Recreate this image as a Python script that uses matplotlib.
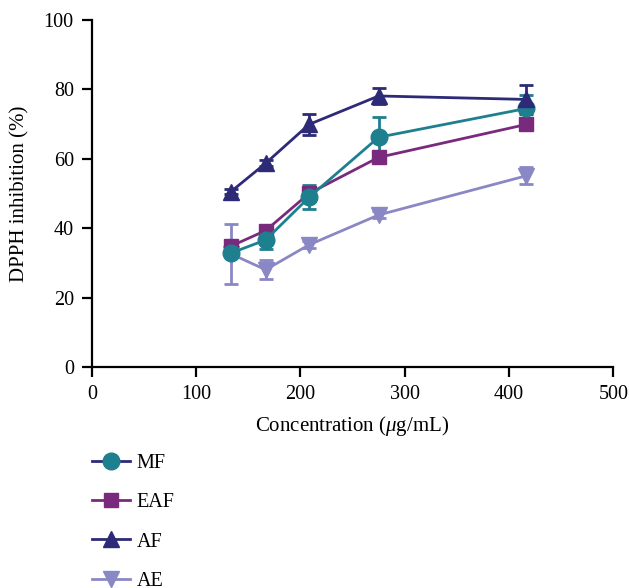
import matplotlib
matplotlib.use("Agg")
import matplotlib.pyplot as plt
from matplotlib.lines import Line2D

plt.rcParams['font.family'] = ['Liberation Serif', 'DejaVu Serif']
plt.rcParams['mathtext.fontset'] = 'custom'
plt.rcParams['mathtext.it'] = 'Liberation Serif:italic'
plt.rcParams['mathtext.rm'] = 'Liberation Serif'

conc = [133.3, 166.7, 208.3, 275.0, 416.7]

mf = [32.8, 36.6, 48.9, 66.2, 74.5]
mf_err = [0.8, 2.7, 3.5, 5.7, 3.8]
eaf = [34.8, 39.3, 50.0, 60.4, 69.9]
eaf_err = [1.0, 1.0, 1.5, 1.2, 1.0]
af = [50.5, 58.7, 69.9, 78.1, 77.1]
af_err = [0.8, 0.8, 3.0, 2.3, 4.2]
ae = [32.6, 28.0, 35.2, 43.8, 55.1]
ae_err = [8.6, 2.7, 1.0, 1.0, 2.4]

names = ["MF", "EAF", "AF", "AE"]
colors = ["#1e7f8f", "#7a2a7d", "#2d2a78", "#8a88c4"]
markers = ["o", "s", "^", "v"]
sizes = [12, 10.5, 11, 11]
# legend line colours in the original (MF line drawn in navy)
leg_line_colors = ["#2d2a78", "#7a2a7d", "#2d2a78", "#8a88c4"]

fig = plt.figure(figsize=(6.29, 5.88), dpi=100)
ax = fig.add_axes([0.146, 0.376, 0.829, 0.590])

series = [(ae, ae_err), (eaf, eaf_err), (mf, mf_err), (af, af_err)]
order = [3, 1, 0, 2]
for k, (vals, err) in zip(order, series):
    ax.errorbar(conc, vals, yerr=err, color=colors[k], marker=markers[k],
                markersize=sizes[k], linewidth=2, elinewidth=2,
                capsize=5, capthick=2, zorder=3)

ax.set_xlim(0, 500)
ax.set_ylim(0, 100)
ax.set_xticks([0, 100, 200, 300, 400, 500])
ax.set_yticks([0, 20, 40, 60, 80, 100])
ax.spines['top'].set_visible(False)
ax.spines['right'].set_visible(False)
ax.spines['left'].set_linewidth(1.6)
ax.spines['bottom'].set_linewidth(1.6)
ax.tick_params(labelsize=14.5, width=1.6, length=7, pad=6, direction='out')
ax.set_xlabel(r"Concentration ($\mu$g/mL)", fontsize=15, labelpad=7)
ax.set_ylabel("DPPH inhibition (%)", fontsize=15, labelpad=10)

handles = []
for k in range(4):
    handles.append(Line2D([0], [0], color=leg_line_colors[k], linewidth=2,
                          marker=markers[k], markersize=sizes[k],
                          markerfacecolor=colors[k], markeredgecolor=colors[k]))
fig.legend(handles, names, loc='upper left', bbox_to_anchor=(0.147, 0.228),
           frameon=False, fontsize=14.5, labelspacing=1.0, handlelength=1.85,
           handletextpad=0.35, borderaxespad=0, borderpad=0)

fig.savefig("out.png", dpi=100)
